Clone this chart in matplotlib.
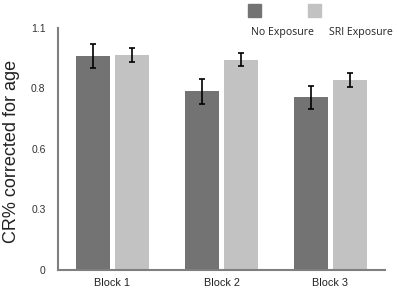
import matplotlib
matplotlib.use("Agg")
import matplotlib.pyplot as plt
import numpy as np
from matplotlib.patches import Rectangle

categories = ["Block 1", "Block 2", "Block 3"]
no_exposure = [0.972, 0.811, 0.785]
no_exposure_err = [0.054, 0.055, 0.053]
sri_exposure = [0.977, 0.955, 0.864]
sri_exposure_err = [0.030, 0.030, 0.031]
series_names = ["No Exposure", "SRI Exposure"]
ytick_values = [0, 0.275, 0.55, 0.825, 1.1]
ytick_labels = ["0", "0.3", "0.6", "0.8", "1.1"]

dark = "#737373"
light = "#c2c2c2"
axis_col = "#7f7f7f"

W, H = 397, 291
fig = plt.figure(figsize=(W / 100, H / 100), dpi=100)
ax = fig.add_axes([58 / W, 1 - 269.5 / H, (385 - 58) / W, (269.5 - 28) / H])

x = np.arange(len(categories))
bw = 0.312
off = 0.179
ax.bar(x - off, no_exposure, bw, color=dark, zorder=2)
ax.bar(x + off, sri_exposure, bw, color=light, zorder=2)
ax.errorbar(x - off, no_exposure, yerr=no_exposure_err, fmt="none",
            ecolor="black", elinewidth=1.2, capsize=2.5, capthick=1.2, zorder=3)
ax.errorbar(x + off, sri_exposure, yerr=sri_exposure_err, fmt="none",
            ecolor="black", elinewidth=1.2, capsize=2.5, capthick=1.2, zorder=3)

ax.set_xlim(-0.5, 2.5)
ax.set_ylim(0, 1.1)
ax.set_yticks(ytick_values)
ax.set_yticklabels(ytick_labels, fontsize=7.5, family="Liberation Sans", color="#333333")
ax.set_xticks(x)
ax.set_xticklabels(categories, fontsize=7.8, family="Liberation Sans", color="#222222")
ax.tick_params(axis="both", length=0, pad=9)
ax.tick_params(axis="x", pad=6)
for s in ["top", "right"]:
    ax.spines[s].set_visible(False)
for s in ["left", "bottom"]:
    ax.spines[s].set_color(axis_col)
    ax.spines[s].set_linewidth(1.5)

fig.text(12 / W, 1 - 151 / H, "CR% corrected for age", rotation=90,
         ha="center", va="center", fontsize=13, family="Liberation Sans", color="#222222")

# legend
for x0, col, name, tx in [(248, dark, series_names[0], 282.5), (308, light, series_names[1], 360.5)]:
    fig.patches.append(Rectangle((x0 / W, 1 - 17 / H), 13 / W, 13 / H,
                                 transform=fig.transFigure, color=col, figure=fig))
    fig.text(tx / W, 1 - 33 / H, name, ha="center", va="center",
             fontsize=7.6, family="Open Sans", color="#222222")

fig.savefig("out.png", dpi=100)
